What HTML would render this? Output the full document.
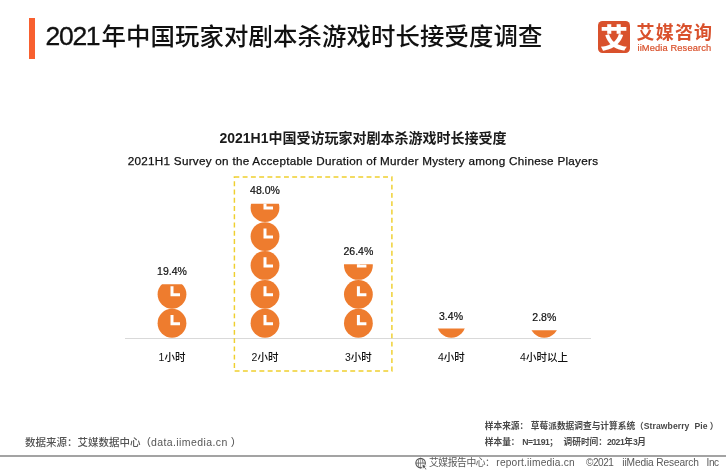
<!DOCTYPE html>
<html lang="zh-CN">
<head>
<meta charset="utf-8">
<title>2021年中国玩家对剧本杀游戏时长接受度调查</title>
<style>
html,body{margin:0;padding:0;background:#fff;}
body{width:726px;height:472px;position:relative;overflow:hidden;font-family:"Liberation Sans","Noto Sans CJK SC",sans-serif;color:#111;}
.abs{position:absolute;white-space:nowrap;}
#bar{left:29.2px;top:18px;width:6px;height:41.4px;background:#f8602f;}
#title{left:45.5px;top:18px;font-size:24.4px;line-height:36px;color:#111;font-weight:500;letter-spacing:0.11px;}
#title .n{font-size:26.5px;letter-spacing:-1.3px;font-weight:400;-webkit-text-stroke:0.35px #111;margin-right:2.2px;}
#logo{left:598px;top:21px;width:32px;height:32px;border-radius:4.5px;background:#d9512c;color:#fff;text-align:center;font-size:27.5px;line-height:36px;font-weight:900;overflow:hidden;}
#lname{left:636.5px;top:21.3px;font-size:18px;line-height:24px;font-weight:bold;color:#d9512c;letter-spacing:1.2px;}
#lsub{left:637.5px;top:41.5px;font-size:9.3px;line-height:12px;color:#d9512c;letter-spacing:0.12px;-webkit-text-stroke:0.2px #d9512c;}
#ctitle{left:0;width:726px;text-align:center;top:127.5px;font-size:14px;line-height:20px;font-weight:bold;color:#1a1a1a;}
#csub{left:0;width:726px;text-align:center;top:151.5px;font-size:11.7px;line-height:18px;color:#111;letter-spacing:0.27px;-webkit-text-stroke:0.25px #111;}
#axis{left:125px;top:338.4px;width:466px;height:1px;background:#d9d9d9;}
.cat{top:349px;width:100px;text-align:center;font-size:10.5px;line-height:16px;color:#111;font-weight:500;}
.val{width:100px;text-align:center;font-size:10.5px;line-height:16px;color:#111;-webkit-text-stroke:0.2px #111;}
#src{left:25px;top:434px;font-size:10.5px;line-height:16px;color:#555;font-weight:500;}
#smp1{left:484.8px;top:419.5px;font-size:8.7px;line-height:13px;color:#484848;font-weight:bold;}
#smp2{left:484.8px;top:435.5px;font-size:8.7px;line-height:13px;color:#484848;font-weight:bold;}
#fline{left:0;top:455px;width:726px;height:2px;background:#a3a3a3;}
#foot{left:0;top:456.3px;font-size:10.2px;line-height:14px;color:#595959;}
#foot span{top:0;}
.c{margin-right:2.6px;}
.l1{font-size:8.6px;word-spacing:2.6px;letter-spacing:0.08px;}
.l2{font-size:8.6px;letter-spacing:-0.45px;}
.ls{letter-spacing:0.4px;}
</style>
</head>
<body>
<div class="abs" id="bar"></div>
<div class="abs" id="title"><span class="n">2021</span>年中国玩家对剧本杀游戏时长接受度调查</div>

<div class="abs" id="logo">艾</div>
<div class="abs" id="lname">艾媒咨询</div>
<div class="abs" id="lsub">iiMedia Research</div>

<div class="abs" id="ctitle">2021H1中国受访玩家对剧本杀游戏时长接受度</div>
<div class="abs" id="csub">2021H1 Survey on the Acceptable Duration of Murder Mystery among Chinese Players</div>

<div class="abs" id="axis"></div>

<svg class="abs" id="chart" style="left:0;top:0" width="726" height="472" viewBox="0 0 726 472">
<defs>
<g id="clk"><circle cx="14.6" cy="14.45" r="14.4" fill="#ee7c2e"/><path d="M14.6 6.3V14.9H22.6" fill="none" stroke="#fff" stroke-width="3"/></g>
<clipPath id="c1"><rect x="150" y="284.3" width="50" height="60"/></clipPath>
<clipPath id="c2"><rect x="240" y="203.8" width="50" height="140"/></clipPath>
<clipPath id="c3"><rect x="335" y="264.3" width="50" height="80"/></clipPath>
<clipPath id="c4"><rect x="430" y="328.5" width="50" height="12"/></clipPath>
<clipPath id="c5"><rect x="520" y="330.2" width="50" height="12"/></clipPath>
</defs>
<rect x="234.4" y="177" width="157.5" height="194" fill="none" stroke="#efcf2e" stroke-width="1.45" stroke-dasharray="4.9 3.36"/>
<g clip-path="url(#c1)"><use href="#clk" x="157.4" y="308.8"/><use href="#clk" x="157.4" y="279.9"/></g>
<g clip-path="url(#c2)"><use href="#clk" x="250.4" y="308.8"/><use href="#clk" x="250.4" y="279.9"/><use href="#clk" x="250.4" y="251"/><use href="#clk" x="250.4" y="222.1"/><use href="#clk" x="250.4" y="193.2"/></g>
<g clip-path="url(#c3)"><use href="#clk" x="343.8" y="308.8"/><use href="#clk" x="343.8" y="279.9"/><use href="#clk" x="343.8" y="251"/></g>
<g clip-path="url(#c4)"><use href="#clk" x="436.7" y="308.8"/></g>
<g clip-path="url(#c5)"><use href="#clk" x="529.6" y="308.8"/></g>
<g fill="none" stroke="#555" stroke-width="1.05"><circle cx="420.6" cy="463.1" r="4.75"/><ellipse cx="420.6" cy="463.1" rx="2.3" ry="4.75" stroke-width="0.75"/><path d="M415.8 463.1H425.4" stroke-width="0.75"/><path d="M420.6 458.3V467.9" stroke-width="0.6"/></g>
<path d="M422 464.1l5.2 2-2.2 0.8 1.7 2.3-1.1 0.8-1.7-2.3-1.4 1.7z" fill="#4a4a4a" stroke="#fff" stroke-width="0.9" stroke-linejoin="round"/>
</svg>

<div class="abs val" style="left:122px;top:263px">19.4%</div>
<div class="abs val" style="left:215px;top:182px">48.0%</div>
<div class="abs val" style="left:308.4px;top:243px">26.4%</div>
<div class="abs val" style="left:401px;top:308px">3.4%</div>
<div class="abs val" style="left:494.3px;top:308.5px">2.8%</div>

<div class="abs cat" style="left:122px">1小时</div>
<div class="abs cat" style="left:215px">2小时</div>
<div class="abs cat" style="left:308.4px">3小时</div>
<div class="abs cat" style="left:401.3px">4小时</div>
<div class="abs cat" style="left:494px">4小时以上</div>

<div class="abs" id="src">数据来源：艾媒数据中心（<span class="ls">data.iimedia.cn</span><span style="margin-left:3px">）</span></div>
<div class="abs" id="smp1">样本来源<span class="c">：</span>草莓派数据调查与计算系统（<span class="l1">Strawberry Pie</span><span style="margin-left:2px">）</span></div>
<div class="abs" id="smp2">样本量<span class="c">：</span><span class="l2">N=1191</span><span style="margin-right:5.5px">；</span>调研时间：<span class="l2">2021</span>年<span class="l2">3</span>月</div>
<div class="abs" id="fline"></div>
<div class="abs" id="foot"><span class="abs" style="left:429px;font-size:9.8px;letter-spacing:-0.45px">艾媒报告中心：</span><span class="abs" style="left:496.3px;letter-spacing:0.19px">report.iimedia.cn</span><span class="abs" style="left:586px;font-size:10px;letter-spacing:-0.45px">©2021</span><span class="abs" style="left:622.3px;letter-spacing:-0.14px">iiMedia Research</span><span class="abs" style="left:706.5px;font-size:10px;letter-spacing:-0.4px">Inc</span></div>
</body>
</html>
